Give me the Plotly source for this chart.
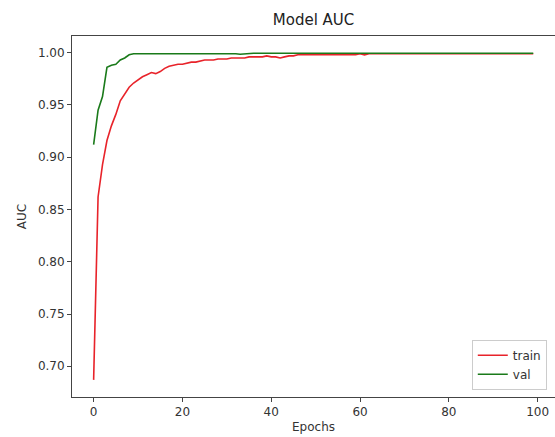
import plotly.graph_objects as go

# Per-epoch AUC history
epochs = list(range(100))

train_auc = [
    0.687, 0.862, 0.893, 0.916, 0.930, 0.941, 0.954, 0.961, 0.967, 0.971,
    0.974, 0.977, 0.979, 0.981, 0.980, 0.982, 0.985, 0.987, 0.988, 0.989,
    0.989, 0.990, 0.991, 0.991, 0.992, 0.993, 0.993, 0.993, 0.994, 0.994,
    0.994, 0.995, 0.995, 0.995, 0.995, 0.996, 0.996, 0.996, 0.996, 0.997,
    0.996, 0.996, 0.995, 0.996, 0.997, 0.997, 0.998, 0.998, 0.998, 0.998,
    0.998, 0.998, 0.998, 0.998, 0.998, 0.998, 0.998, 0.998, 0.998, 0.998,
    0.999, 0.998, 0.999, 0.999, 0.999, 0.999, 0.999, 0.999, 0.999, 0.999,
    0.999, 0.999, 0.999, 0.999, 0.999, 0.999, 0.999, 0.999, 0.999, 0.999,
    0.999, 0.999, 0.999, 0.999, 0.999, 0.999, 0.999, 0.999, 0.999, 0.999,
    0.999, 0.999, 0.999, 0.999, 0.999, 0.999, 0.999, 0.999, 0.999, 0.999,
]

val_auc = [
    0.912, 0.945, 0.958, 0.986, 0.988, 0.989, 0.993, 0.995, 0.998, 0.999,
    0.999, 0.999, 0.999, 0.999, 0.999, 0.999, 0.999, 0.999, 0.999, 0.9995,
    0.9995, 0.9995, 0.9995, 0.9995, 0.9995, 0.9995, 0.9995, 0.9995, 0.9995, 0.9995,
    0.9995, 0.9993, 0.999, 0.9985, 0.999, 0.9993, 0.9995, 0.9995, 0.9995, 0.9995,
    0.9995, 0.9995, 0.9995, 0.9995, 0.9995, 0.9995, 0.9995, 0.9995, 0.9995, 0.9995,
    0.9995, 0.9995, 0.9995, 0.9995, 0.9995, 0.9995, 0.9995, 0.9995, 0.9995, 0.9995,
    0.9995, 0.9995, 0.9995, 0.9995, 0.9995, 0.9995, 0.9995, 0.9995, 0.9995, 0.9995,
    0.9995, 0.9995, 0.9995, 0.9995, 0.9995, 0.9995, 0.9995, 0.9995, 0.9995, 0.9995,
    0.9995, 0.9995, 0.9995, 0.9995, 0.9995, 0.9995, 0.9995, 0.9995, 0.9995, 0.9995,
    0.9995, 0.9995, 0.9995, 0.9995, 0.9995, 0.9995, 0.9995, 0.9995, 0.9995, 0.9995,
]

x_ticks = [0, 20, 40, 60, 80, 100]
y_ticks = [0.70, 0.75, 0.80, 0.85, 0.90, 0.95, 1.00]
y_tick_text = ["0.70", "0.75", "0.80", "0.85", "0.90", "0.95", "1.00"]

FONT = "DejaVu Sans"
TXT = "#333333"

fig = go.Figure()
fig.add_trace(go.Scatter(x=epochs, y=train_auc, mode="lines", name="train",
                         line=dict(color="#e8232a", width=1.6)))
fig.add_trace(go.Scatter(x=epochs, y=val_auc, mode="lines", name="val",
                         line=dict(color="#1a7a1a", width=1.6)))

fig.update_layout(
    width=555, height=437,
    margin=dict(l=72, r=0, t=36, b=40),
    paper_bgcolor="white", plot_bgcolor="white",
    font=dict(family=FONT, size=12, color=TXT),
    title=dict(text="Model AUC", x=0.565, xanchor="center", y=0.954, yanchor="middle",
               font=dict(family=FONT, size=15, color="#222222")),
    legend=dict(x=0.983, y=0.02, xanchor="right", yanchor="bottom",
                bgcolor="rgba(255,255,255,0.9)", bordercolor="#cccccc", borderwidth=1,
                font=dict(family=FONT, size=12, color=TXT),
                itemwidth=30, tracegroupgap=0),
    showlegend=True,
)

fig.update_xaxes(
    range=[-4.87, 103.9], tickvals=x_ticks, ticks="outside", ticklen=4,
    tickcolor="#444444", showgrid=False, zeroline=False,
    showline=True, linecolor="#444444", linewidth=1, mirror=True,
    tickfont=dict(family=FONT, size=12, color=TXT),
    title=dict(text="Epochs", font=dict(family=FONT, size=12, color=TXT), standoff=4),
)
fig.update_yaxes(
    range=[0.6706, 1.016], tickvals=y_ticks, ticktext=y_tick_text, ticks="outside",
    ticklen=4, tickcolor="#444444", showgrid=False, zeroline=False,
    showline=True, linecolor="#444444", linewidth=1, mirror=False,
    tickfont=dict(family=FONT, size=12, color=TXT),
    title=dict(text="AUC", font=dict(family=FONT, size=12, color=TXT), standoff=8),
)

fig.write_html("out.html")
